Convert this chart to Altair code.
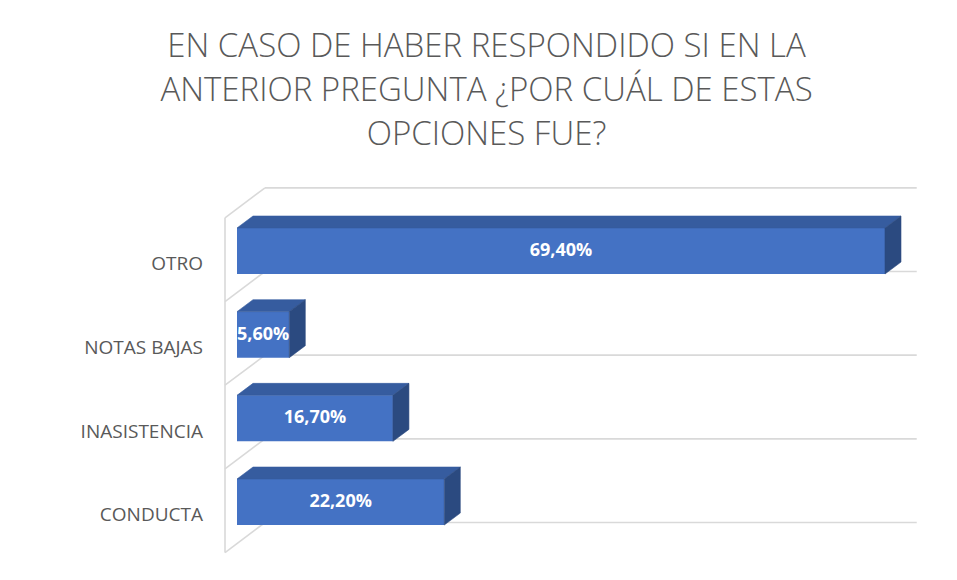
import altair as alt
import pandas as pd

# ---------------- data ----------------
categories = ["CONDUCTA", "INASISTENCIA", "NOTAS BAJAS", "OTRO"]
values = [22.2, 16.7, 5.6, 69.4]
title_lines = [
    "EN CASO DE HABER RESPONDIDO SI EN LA",
    "ANTERIOR PREGUNTA ¿POR CUÁL DE ESTAS",
    "OPCIONES FUE?",
]

# ---------------- layout (data units) ----------------
BAR_HALF = 0.275       # half bar thickness in category units
DEPTH_X = 1.714        # 3-D depth offset, % units
DEPTH_Y = 0.143        # 3-D depth offset, category units
WALL_FRONT_X = -1.285
WALL_BACK_X = 3.0
WALL_RIGHT_X = 72.8
WALL_DEPTH_Y = 0.359
GRID_SHIFT = -0.245
LABEL_X = -3.64
LABEL_DY = -0.16

FRONT = "#4472C4"
TOP = "#365C9F"
SIDE = "#2B4A80"
GRID = "#D9D9D9"
TEXT = "#595959"

# pixel mapping of the plot area
W, H_TOTAL, T = 941, 564, 158
H = H_TOTAL - T
PX_PCT = 9.337
X_ZERO = 229
PX_CAT = 83.67
Y_TOP_CAT = 85  # px from plot top to center of top category

x_dom = [-X_ZERO / PX_PCT, (W - X_ZERO) / PX_PCT]
n = len(categories)
y_dom = [(n - 1) - (H - Y_TOP_CAT) / PX_CAT, (n - 1) + Y_TOP_CAT / PX_CAT]

xs = alt.Scale(domain=x_dom, nice=False, zero=False)
ys = alt.Scale(domain=y_dom, nice=False, zero=False)

idx = list(range(n))
bars = pd.DataFrame({"cat": categories, "i": idx, "v": values})
bars["lo"] = bars.i - BAR_HALF
bars["hi"] = bars.i + BAR_HALF
bars["label"] = [f"{v:.2f}".replace(".", ",") + "%" for v in values]
bars["half"] = bars.v / 2
bars["ly"] = bars.i + LABEL_DY
bars["lx"] = LABEL_X

# polygons for the 3-D faces (closed outlines, point order k)
top_rows, side_rows = [], []
for c, i, v in zip(categories, idx, values):
    hi, lo = i + BAR_HALF, i - BAR_HALF
    poly = [(0, hi), (DEPTH_X, hi + DEPTH_Y), (v + DEPTH_X, hi + DEPTH_Y), (v, hi), (0, hi)]
    for k, (px, py) in enumerate(poly):
        top_rows.append({"cat": c, "k": k, "px": px, "py": py})
    poly = [(v, hi), (v + DEPTH_X, hi + DEPTH_Y), (v + DEPTH_X, lo + DEPTH_Y), (v, lo), (v, hi)]
    for k, (px, py) in enumerate(poly):
        side_rows.append({"cat": c, "k": k, "px": px, "py": py})
top_df = pd.DataFrame(top_rows)
side_df = pd.DataFrame(side_rows)

grid_levels = [k + GRID_SHIFT for k in range(n + 1)]
grid_df = pd.DataFrame({"g": grid_levels, "x1": WALL_BACK_X, "x2": WALL_RIGHT_X})
diag_df = pd.DataFrame({"x1": WALL_FRONT_X, "x2": WALL_BACK_X,
                        "y1": [g - WALL_DEPTH_Y for g in grid_levels], "y2": grid_levels})
vert_df = pd.DataFrame({"x": [WALL_FRONT_X], "y1": [grid_levels[0] - WALL_DEPTH_Y],
                        "y2": [grid_levels[-1] - WALL_DEPTH_Y]})

# ---------------- layers ----------------
grid = alt.Chart(grid_df).mark_rule(color=GRID, strokeWidth=1.6).encode(
    x=alt.X("x1:Q", scale=xs, axis=None), x2="x2:Q",
    y=alt.Y("g:Q", scale=ys, axis=None))
diag = alt.Chart(diag_df).mark_rule(color=GRID, strokeWidth=1.6).encode(
    x=alt.X("x1:Q", scale=xs, axis=None), x2="x2:Q",
    y=alt.Y("y1:Q", scale=ys, axis=None), y2="y2:Q")
vert = alt.Chart(vert_df).mark_rule(color=GRID, strokeWidth=1.6).encode(
    x=alt.X("x:Q", scale=xs, axis=None),
    y=alt.Y("y1:Q", scale=ys, axis=None), y2="y2:Q")

front = alt.Chart(bars).mark_rect(color=FRONT).encode(
    x=alt.X("v:Q", scale=xs, axis=None), x2=alt.datum(0),
    y=alt.Y("lo:Q", scale=ys, axis=None), y2="hi:Q")


def face(df, colr):
    return alt.Chart(df).mark_line(fill=colr, stroke=colr, strokeWidth=0.6,
                                   interpolate="linear").encode(
        x=alt.X("px:Q", scale=xs, axis=None),
        y=alt.Y("py:Q", scale=ys, axis=None),
        detail="cat:N", order="k:Q")


top = face(top_df, TOP)
side = face(side_df, SIDE)

vals = alt.Chart(bars).mark_text(color="white", font="Open Sans", fontWeight="bold",
                                 fontSize=18, baseline="middle", align="center").encode(
    x=alt.X("half:Q", scale=xs, axis=None),
    y=alt.Y("i:Q", scale=ys, axis=None), text="label:N")
cats = alt.Chart(bars).mark_text(color=TEXT, font="Open Sans", fontSize=19,
                                 baseline="middle", align="right").encode(
    x=alt.X("lx:Q", scale=xs, axis=None),
    y=alt.Y("ly:Q", scale=ys, axis=None), text="cat:N")

chart = alt.layer(grid, diag, vert, front, top, side, vals, cats).properties(
    width=W, height=H,
    background="white",
    autosize=alt.AutoSizeParams(type="none"),
    padding={"left": 0, "top": T, "right": 0, "bottom": 0},
    title=alt.Title(title_lines, anchor="middle", frame="group", fontSize=33,
                    font="Open Sans", fontWeight=300, color=TEXT, lineHeight=44,
                    baseline="bottom", offset=-19, dx=8),
).configure_view(stroke=None)

chart.save("out.html", embed_options={"renderer": "svg", "actions": False})
